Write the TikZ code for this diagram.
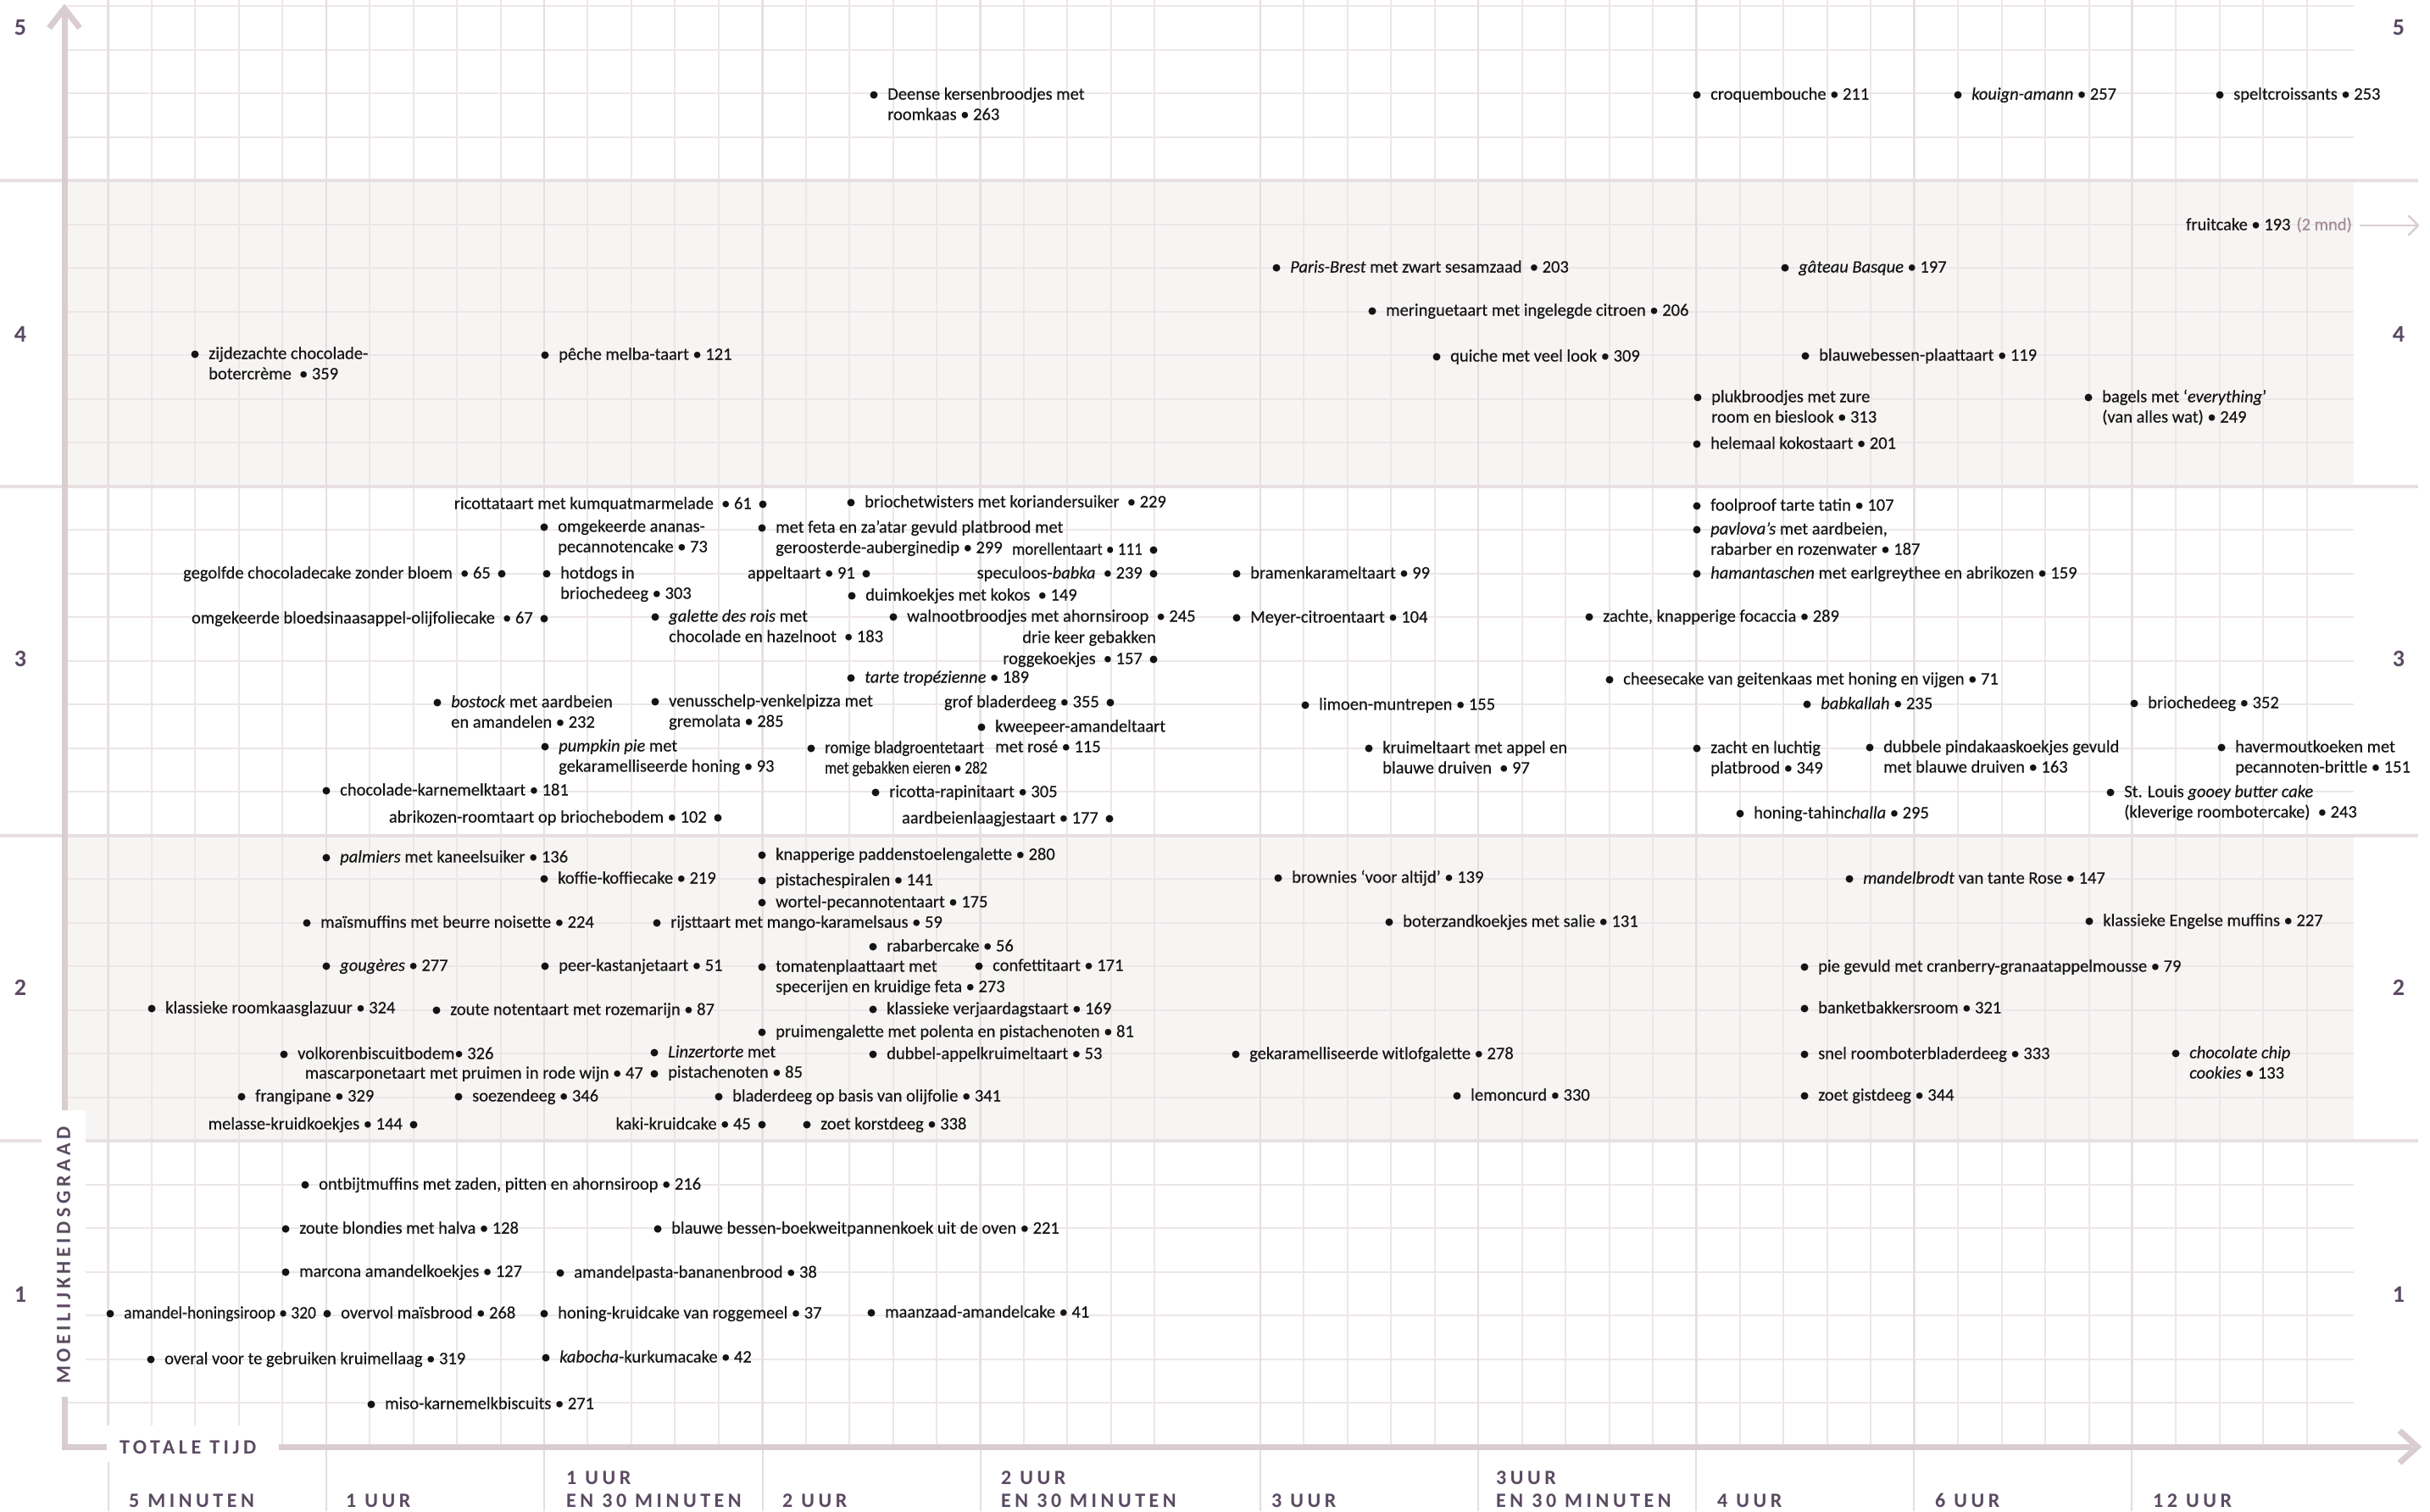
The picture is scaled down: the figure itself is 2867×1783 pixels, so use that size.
\documentclass[tikz,border=0pt]{standalone}
\usepackage{fontspec}
\setmainfont{Carlito}[FakeBold=0.4]
\newfontfamily\capsfont[LetterSpace=19]{Carlito}
\definecolor{ink}{HTML}{141414}
\definecolor{lab}{HTML}{5B4A62}
\definecolor{gridc}{HTML}{EDE6E8}
\definecolor{gridm}{HTML}{E6DDE0}
\definecolor{bandl}{HTML}{E7DFE1}
\definecolor{axisc}{HTML}{DACDD0}
\definecolor{bandfill}{HTML}{F7F5F3}
\definecolor{mndc}{HTML}{A38C98}
\newcounter{rc}
\tikzset{
  dot/.style={circle,fill=ink,inner sep=0pt,minimum size=9pt,draw=none},
  lbl/.style={inner sep=0pt,text=ink,font=\fontsize{20.5}{24}\selectfont},
  capslbl/.style={inner sep=0pt,text=lab,font=\capsfont\bfseries\fontsize{24}{24}\selectfont},
  numlbl/.style={inner sep=0pt,text=lab,font=\capsfont\bfseries\fontsize{28}{28}\selectfont},
  gridminor/.style={draw=gridc,line width=2pt},
  gridmajor/.style={draw=gridm,line width=2.6pt},
  bandline/.style={draw=bandl,line width=3.5pt},
  axisline/.style={draw=axisc,line width=7pt,line join=miter},
  fcarr/.style={draw=axisc,line width=2.5pt,line cap=round,line join=round},
}
% dot left, text right
\newcommand\recR[4]{%
  \stepcounter{rc}%
  \node[dot] (d\arabic{rc}) at (#1,#2) {};%
  \node[lbl,anchor=base west] (t\arabic{rc}) at (#1+16,#2+5.5) {#3};%
  \if\relax\detokenize{#4}\relax\else
  \node[lbl,anchor=base west] (u\arabic{rc}) at (#1+16,#2+29.5) {#4};\fi
}
% text left, dot right
\newcommand\recL[3]{%
  \stepcounter{rc}%
  \node[dot] (d\arabic{rc}) at (#1,#2) {};%
  \node[lbl,anchor=base east] (t\arabic{rc}) at (#1-13,#2+5.5) {#3};%
}
\newcommand\cnd[2]{\scalebox{#1}[1]{#2}}
\begin{document}
\begin{tikzpicture}[x=1pt,y=-1pt]
\useasboundingbox[fill=white] (0,0) rectangle (2867,1783);
% shaded bands
\fill[bandfill] (76,213) rectangle (2777,574);
\fill[bandfill] (76,986) rectangle (2777,1346);
% grid
\foreach \k in {0,...,32}{\draw[gridminor] (76,{7+51.5*\k}) -- (2777,{7+51.5*\k});}
\foreach \k in {1,...,25}{\draw[gridminor] ({76+51.45*\k},0) -- ({76+51.45*\k},1707);}
\foreach \k in {0,...,24}{\draw[gridminor] ({1487+51.45*\k},0) -- ({1487+51.45*\k},1707);}
\foreach \xx in {128,385,642,900,1157,1487,1744,2001,2258,2515}{\draw[gridmajor] (\xx,0) -- (\xx,1783);}
\foreach \yy in {213,574,986,1346}{\draw[bandline] (0,\yy) -- (2853,\yy);}
% axes
\coordinate (ytop) at (76,10);
\coordinate (origin) at (76,1707);
\coordinate (xend) at (2852,1707);
\draw[axisline] (76,16) -- (origin) -- (2846,1707);
\draw[axisline] (58,33) -- (ytop) -- (94,33);
\draw[axisline] (2831,1688) -- (xend) -- (2831,1726);
% label boxes
\fill[white] (49,1310) rectangle (101,1648);
\fill[white] (126,1682) rectangle (329,1725);
\node[capslbl,rotate=90] (ylab) at (75,1481) {MOEILIJKHEIDSGRAAD};
\node[capslbl,anchor=west] (xlab) at (141,1708) {TOTALE TIJD};
% level numbers
\node[numlbl] (l5) at (24,33) {5};
\node[numlbl] (l4) at (24,394) {4};
\node[numlbl] (l3) at (24,777) {3};
\node[numlbl] (l2) at (24,1165) {2};
\node[numlbl] (l1) at (24,1527) {1};
\node[numlbl] (r5) at (2830,33) {5};
\node[numlbl] (r4) at (2830,394) {4};
\node[numlbl] (r3) at (2830,777) {3};
\node[numlbl] (r2) at (2830,1165) {2};
\node[numlbl] (r1) at (2830,1527) {1};
% time labels
\node[capslbl,anchor=base west] (ta) at (152,1778) {5 MINUTEN};
\node[capslbl,anchor=base west] (tb) at (408,1778) {1 UUR};
\node[capslbl,anchor=base west] (tc1) at (668,1751) {1 UUR};
\node[capslbl,anchor=base west] (tc2) at (668,1778) {EN 30 MINUTEN};
\node[capslbl,anchor=base west] (td) at (923,1778) {2 UUR};
\node[capslbl,anchor=base west] (te1) at (1181,1751) {2 UUR};
\node[capslbl,anchor=base west] (te2) at (1181,1778) {EN 30 MINUTEN};
\node[capslbl,anchor=base west] (tf) at (1500,1778) {3 UUR};
\node[capslbl,anchor=base west] (tg1) at (1765,1751) {3UUR};
\node[capslbl,anchor=base west] (tg2) at (1765,1778) {EN 30 MINUTEN};
\node[capslbl,anchor=base west] (th) at (2026,1778) {4 UUR};
\node[capslbl,anchor=base west] (ti) at (2283,1778) {6 UUR};
\node[capslbl,anchor=base west] (tj) at (2540,1778) {12 UUR};
% ---- band 5
\recR{1031}{112}{Deense kersenbroodjes met}{roomkaas • 263}
\recR{2002}{112}{croquembouche • 211}{}
\recR{2310}{112}{\textit{kouign-amann} • 257}{}
\recR{2619}{112}{speltcroissants • 253}{}
% ---- band 4
\node[lbl,anchor=base east] (fc) at (2775,271.5) {fruitcake • 193\hspace{7pt}\textcolor{mndc}{(2 mnd)}};
\coordinate (fcA) at (2785,266);
\coordinate (fcB) at (2853,266);
\draw[fcarr] (fcA) -- (fcB);
\draw[fcarr] (2842,255) -- (fcB) -- (2842,277);
\recR{1506}{316}{\textit{Paris-Brest} met zwart sesamzaad \ • 203}{}
\recR{2106}{316}{\textit{gâteau Basque} • 197}{}
\recR{1619}{367}{meringuetaart met ingelegde citroen • 206}{}
\recR{230}{418}{zijdezachte chocolade-}{botercrème \ • 359}
\recR{643}{419}{pêche melba-taart • 121}{}
\recR{1695}{421}{quiche met veel look • 309}{}
\recR{2130}{420}{blauwebessen-plaattaart • 119}{}
\recR{2003}{469}{plukbroodjes met zure}{room en bieslook • 313}
\recR{2464}{469}{bagels met ‘\textit{everything}’}{(van alles wat) • 249}
\recR{2002}{524}{helemaal kokostaart • 201}{}
% ---- band 3
\recL{900}{595}{ricottataart met kumquatmarmelade \ • 61}
\recR{1004}{593}{briochetwisters met koriandersuiker \ • 229}{}
\recR{642}{622}{omgekeerde ananas-}{pecannotencake • 73}
\recR{899}{623}{met feta en za’atar gevuld platbrood met}{geroosterde-auberginedip • 299}
\recL{1361}{649}{\cnd{0.93}{morellentaart • 111}}
\recL{592}{677}{gegolfde chocoladecake zonder bloem \ • 65}
\recR{645}{677}{hotdogs in}{briochedeeg • 303}
\recL{1022}{677}{appeltaart • 91}
\recL{1361}{677}{speculoos-\textit{babka} \ • 239}
\recR{1459}{677}{bramenkarameltaart • 99}{}
\recR{2002}{597}{foolproof tarte tatin • 107}{}
\recR{2002}{625}{\textit{pavlova’s} met aardbeien,}{rabarber en rozenwater • 187}
\recR{2002}{677}{\textit{hamantaschen} met earlgreythee en abrikozen • 159}{}
\recR{1005}{703}{duimkoekjes met kokos \ • 149}{}
\recL{642}{730}{omgekeerde bloedsinaasappel-olijfoliecake \ • 67}
\recR{773}{728}{\textit{galette des rois} met}{chocolade en hazelnoot \ • 183}
\recR{1054}{728}{walnootbroodjes met ahornsiroop \ • 245}{}
\recR{1459}{729}{Meyer-citroentaart • 104}{}
\recR{1875}{728}{zachte, knapperige focaccia • 289}{}
\node[lbl,anchor=base east] (drie) at (1364,758.5) {drie keer gebakken};
\recL{1361}{778}{roggekoekjes \ • 157}
\recR{1004}{800}{\textit{tarte tropézienne} • 189}{}
\recR{1899}{802}{cheesecake van geitenkaas met honing en vijgen • 71}{}
\recR{516}{829}{\textit{bostock} met aardbeien}{en amandelen • 232}
\recR{773}{828}{venusschelp-venkelpizza met}{gremolata • 285}
\recL{1310}{829}{grof bladerdeeg • 355}
\recR{1540}{832}{limoen-muntrepen • 155}{}
\recR{2132}{831}{\textit{babkallah} • 235}{}
\recR{2518}{830}{briochedeeg • 352}{}
\recR{1158}{858}{kweepeer-amandeltaart}{met rosé • 115}
\recR{643}{881}{\textit{pumpkin pie} met}{gekaramelliseerde honing • 93}
\recR{957}{883}{\cnd{0.92}{romige bladgroentetaart}}{\cnd{0.85}{met gebakken eieren • 282}}
\recR{1615}{883}{kruimeltaart met appel en}{blauwe druiven \ • 97}
\recR{2002}{883}{zacht en luchtig}{platbrood • 349}
\recR{2206}{882}{dubbele pindakaaskoekjes gevuld}{met blauwe druiven • 163}
\recR{2621}{882}{havermoutkoeken met}{pecannoten-brittle • 151}
\recR{385}{933}{chocolade-karnemelktaart • 181}{}
\recR{1033}{935}{ricotta-rapinitaart • 305}{}
\recR{2490}{935}{St. Louis \textit{gooey butter cake}}{(kleverige roombotercake) \ • 243}
\recL{847}{965}{abrikozen-roomtaart op briochebodem • 102}
\recL{1309}{966}{aardbeienlaagjestaart • 177}
\recR{2053}{960}{honing-tahin\textit{challa} • 295}{}
% ---- band 2
\recR{385}{1012}{\textit{palmiers} met kaneelsuiker • 136}{}
\recR{899}{1009}{knapperige paddenstoelengalette • 280}{}
\recR{642}{1037}{koffie-koffiecake • 219}{}
\recR{899}{1039}{pistachespiralen • 141}{}
\recR{1508}{1036}{brownies ‘voor altijd’ • 139}{}
\recR{2182}{1037}{\textit{mandelbrodt} van tante Rose • 147}{}
\recR{899}{1065}{wortel-pecannotentaart • 175}{}
\recR{362}{1089}{maïsmuffins met beurre noisette • 224}{}
\recR{775}{1089}{rijsttaart met mango-karamelsaus • 59}{}
\recR{1639}{1088}{boterzandkoekjes met salie • 131}{}
\recR{2465}{1087}{klassieke Engelse muffins • 227}{}
\recR{1030}{1117}{rabarbercake • 56}{}
\recR{385}{1140}{\textit{gougères} • 277}{}
\recR{643}{1140}{peer-kastanjetaart • 51}{}
\recR{899}{1141}{tomatenplaattaart met}{specerijen en kruidige feta • 273}
\recR{1155}{1140}{confettitaart • 171}{}
\recR{2129}{1141}{pie gevuld met cranberry-granaatappelmousse • 79}{}
\recR{179}{1190}{klassieke roomkaasglazuur • 324}{}
\recR{515}{1192}{zoute notentaart met rozemarijn • 87}{}
\recR{1030}{1191}{klassieke verjaardagstaart • 169}{}
\recR{2129}{1190}{banketbakkersroom • 321}{}
\recR{899}{1218}{pruimengalette met polenta en pistachenoten • 81}{}
\recR{335}{1244}{volkorenbiscuitbodem• 326}{}
\recR{772}{1242}{\textit{Linzertorte} met}{pistachenoten • 85}
\recL{772}{1267}{mascarponetaart met pruimen in rode wijn • 47}
\recR{1030}{1244}{dubbel-appelkruimeltaart • 53}{}
\recR{1458}{1244}{gekaramelliseerde witlofgalette • 278}{}
\recR{2129}{1244}{snel roomboterbladerdeeg • 333}{}
\recR{2567}{1243}{\textit{chocolate chip}}{\textit{cookies} • 133}
\recR{285}{1294}{frangipane • 329}{}
\recR{541}{1294}{soezendeeg • 346}{}
\recR{848}{1294}{bladerdeeg op basis van olijfolie • 341}{}
\recR{1719}{1293}{lemoncurd • 330}{}
\recR{2129}{1293}{zoet gistdeeg • 344}{}
\recL{488}{1327}{melasse-kruidkoekjes • 144}
\recL{899}{1327}{kaki-kruidcake • 45}
\recR{952}{1327}{zoet korstdeeg • 338}{}
% ---- band 1
\recR{360}{1398}{ontbijtmuffins met zaden, pitten en ahornsiroop • 216}{}
\recR{337}{1450}{zoute blondies met halva • 128}{}
\recR{776}{1450}{blauwe bessen-boekweitpannenkoek uit de oven • 221}{}
\recR{337}{1501}{marcona amandelkoekjes • 127}{}
\recR{661}{1502}{amandelpasta-bananenbrood • 38}{}
\recR{130}{1550}{\cnd{0.95}{amandel-honingsiroop • 320}}{}
\recR{386}{1550}{overvol maïsbrood • 268}{}
\recR{642}{1550}{honing-kruidcake van roggemeel • 37}{}
\recR{1028}{1549}{maanzaad-amandelcake • 41}{}
\recR{178}{1604}{overal voor te gebruiken kruimellaag • 319}{}
\recR{644}{1602}{\textit{kabocha}-kurkumacake • 42}{}
\recR{438}{1657}{miso-karnemelkbiscuits • 271}{}
\end{tikzpicture}
\end{document}
